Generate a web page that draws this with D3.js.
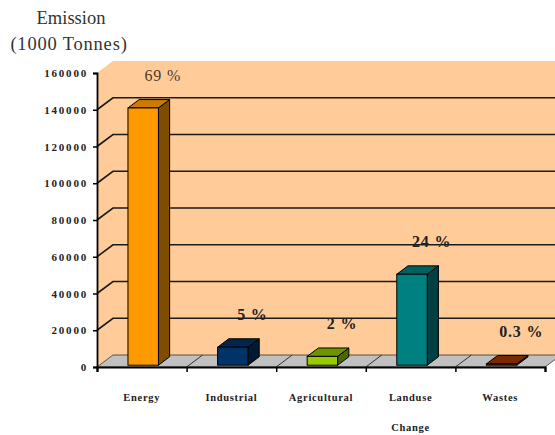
<!DOCTYPE html>
<html>
<head>
<meta charset="utf-8">
<script src="https://cdn.jsdelivr.net/npm/d3@7"></script>
<style>
  body { margin: 0; background: #fff; }
  text { font-family: "Liberation Serif", "DejaVu Serif", serif; }
</style>
</head>
<body>
<svg id="chart" width="555" height="435"></svg>
<script>
// chart data
var categories = ["Energy", "Industrial", "Agricultural", "Landuse Change", "Wastes"];
var emissions = [140000, 9800, 4800, 49500, 700];
var shares = ["69 %", "5 %", "2 %", "24 %", "0.3 %"];
var yTicks = [0, 20000, 40000, 60000, 80000, 100000, 120000, 140000, 160000];

var frontColours = ["#FF9900", "#003366", "#99CC00", "#008080", "#993300"];
var topColours = ["#CC7A00", "#00264D", "#6E9400", "#006060", "#7A2900"];
var sideColours = ["#7F4C00", "#001A33", "#4D6600", "#004040", "#4D1A00"];

var plotLeft = 97, plotRight = 545, plotBottom = 367, plotTop = 73;
var depthX = 16, depthY = -12;

var svg = d3.select("#chart");

var y = d3.scaleLinear().domain([0, 160000]).range([plotBottom, plotTop]);
var xEdge = d3.scaleLinear().domain([0, categories.length]).range([plotLeft, plotRight]);
var x = d3.scaleBand().domain(categories).range([plotLeft, plotRight]).paddingInner(0.66).paddingOuter(0.33);

// walls (side + back) in peach
svg.append("path")
    .attr("d", "M" + plotLeft + "," + plotBottom +
               "L" + plotLeft + "," + plotTop +
               "L" + (plotLeft + depthX) + "," + (plotTop + depthY) +
               "L" + (plotRight + depthX + 20) + "," + (plotTop + depthY) +
               "L" + (plotRight + depthX + 20) + "," + (plotBottom + depthY) +
               "L" + (plotLeft + depthX) + "," + (plotBottom + depthY) + "Z")
    .attr("fill", "#FFCC99");

// gridlines
var grid = yTicks.filter(function(d) { return d > 0 && d < 160000; });
svg.selectAll(".grid")
    .data(grid)
    .enter()
    .append("path")
    .attr("class", "grid")
    .attr("d", function(d) {
        return "M" + plotLeft + "," + y(d) +
               "L" + (plotLeft + depthX) + "," + (y(d) + depthY) +
               "L" + (plotRight + depthX + 20) + "," + (y(d) + depthY);
    })
    .attr("fill", "none")
    .attr("stroke", "#1a1a1a")
    .attr("stroke-width", 1.6);

// floor
svg.append("path")
    .attr("d", "M" + plotLeft + "," + plotBottom +
               "L" + plotRight + "," + plotBottom +
               "L" + (plotRight + depthX) + "," + (plotBottom + depthY) +
               "L" + (plotLeft + depthX) + "," + (plotBottom + depthY) + "Z")
    .attr("fill", "#C0C0C0")
    .attr("stroke", "#333")
    .attr("stroke-width", 0.8);

svg.selectAll(".floorline")
    .data(d3.range(1, categories.length))
    .enter()
    .append("line")
    .attr("x1", function(d) { return xEdge(d); })
    .attr("y1", plotBottom)
    .attr("x2", function(d) { return xEdge(d) + depthX; })
    .attr("y2", plotBottom + depthY)
    .attr("stroke", "#333")
    .attr("stroke-width", 1);

// bars
var f0 = 0.15, f1 = 0.85;
var bars = svg.selectAll(".bar")
    .data(categories)
    .enter()
    .append("g")
    .attr("class", "bar");

bars.each(function(c, i) {
    var g = d3.select(this);
    var x0 = x(c) + f0 * depthX - 1, x1 = x0 + x.bandwidth();
    var yb = plotBottom + f0 * depthY, yt = y(emissions[i]) + f0 * depthY;
    var dx = (f1 - f0) * depthX, dy = (f1 - f0) * depthY;
    // side
    g.append("path")
        .attr("d", "M" + x1 + "," + yb + "L" + x1 + "," + yt +
                   "L" + (x1 + dx) + "," + (yt + dy) + "L" + (x1 + dx) + "," + (yb + dy) + "Z")
        .attr("fill", sideColours[i]).attr("stroke", "#000").attr("stroke-width", 1);
    // top
    g.append("path")
        .attr("d", "M" + x0 + "," + yt + "L" + x1 + "," + yt +
                   "L" + (x1 + dx) + "," + (yt + dy) + "L" + (x0 + dx) + "," + (yt + dy) + "Z")
        .attr("fill", topColours[i]).attr("stroke", "#000").attr("stroke-width", 1);
    // front
    g.append("rect")
        .attr("x", x0).attr("y", yt)
        .attr("width", x.bandwidth()).attr("height", yb - yt)
        .attr("fill", frontColours[i]).attr("stroke", "#000").attr("stroke-width", 1);
});

// percentage labels
svg.selectAll(".share")
    .data(shares)
    .enter()
    .append("text")
    .attr("x", function(d, i) { return x(categories[i]) + x.bandwidth() / 2 + 21; })
    .attr("y", function(d, i) { return y(emissions[i]) - 29; })
    .attr("text-anchor", "middle")
    .attr("font-size", 16)
    .attr("letter-spacing", 0.8)
    .attr("font-weight", function(d, i) { return i === 0 ? "normal" : "bold"; })
    .attr("fill", function(d, i) { return i === 0 ? "#4a3a2a" : "#222"; })
    .text(function(d) { return d; });

// y axis
var yAxis = svg.append("g")
    .attr("transform", "translate(" + plotLeft + ",0)")
    .call(d3.axisLeft(y).tickValues(yTicks).tickSize(4).tickPadding(5).tickFormat(d3.format("d")));
yAxis.select(".domain").attr("stroke", "#000").attr("stroke-width", 1.8);
yAxis.selectAll(".tick line").attr("stroke", "#000").attr("stroke-width", 1.5);
yAxis.selectAll(".tick text")
    .attr("fill", "#222")
    .attr("font-size", 11)
    .attr("font-weight", "bold")
    .attr("letter-spacing", 1.8)
    .style("font-family", "'Liberation Serif', serif");

// x axis
var xAxis = svg.append("g")
    .attr("transform", "translate(0," + plotBottom + ")")
    .call(d3.axisBottom(xEdge).tickValues(d3.range(0, categories.length + 1)).tickSize(5).tickFormat(""));
xAxis.select(".domain").attr("stroke", "#000").attr("stroke-width", 2.2);
xAxis.selectAll(".tick line").attr("stroke", "#000").attr("stroke-width", 1.5);

// category labels
svg.selectAll(".cat")
    .data(categories)
    .enter()
    .append("text")
    .attr("x", function(d) { return x(d) + x.bandwidth() / 2; })
    .attr("y", 401)
    .attr("text-anchor", "middle")
    .attr("font-size", 10.5)
    .attr("font-weight", "bold")
    .attr("letter-spacing", 0.7)
    .attr("fill", "#222")
    .each(function(d) {
        var words = d.split(" ");
        var t = d3.select(this);
        words.forEach(function(w, k) {
            t.append("tspan")
                .attr("x", x(d) + x.bandwidth() / 2)
                .attr("dy", k === 0 ? 0 : 30)
                .text(w);
        });
    });

// axis title
svg.append("text")
    .attr("x", 71).attr("y", 24)
    .attr("text-anchor", "middle")
    .attr("font-size", 18.5)
    .attr("fill", "#333")
    .text("Emission");
svg.append("text")
    .attr("x", 69).attr("y", 50)
    .attr("text-anchor", "middle")
    .attr("font-size", 18.5)
    .attr("letter-spacing", 0.8)
    .attr("fill", "#333")
    .text("(1000 Tonnes)");
</script>
</body>
</html>
